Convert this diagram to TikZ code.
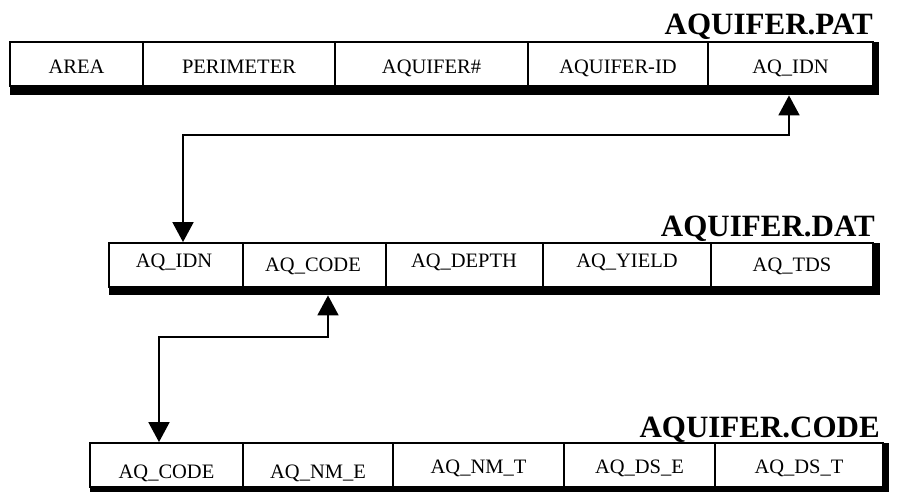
\documentclass[tikz,border=0pt]{standalone}
\usepackage{fontspec}
\setmainfont{Liberation Serif}
\usetikzlibrary{arrows.meta,calc}
\begin{document}
\begin{tikzpicture}[x=1pt,y=-1pt,
  cell/.style={draw, line width=1.8pt, inner sep=0pt, minimum height=44pt},
  lbl/.style={anchor=base, inner sep=0pt, font=\fontsize{20.5}{20.5}\selectfont},
  ttl/.style={anchor=base east, inner sep=0pt, font=\fontsize{31}{31}\selectfont\bfseries},
  band/.style={fill=black, inner sep=0pt, anchor=north west},
  conn/.style={line width=1.8pt, {Triangle[width=21pt,length=20pt]}-{Triangle[width=21pt,length=20pt]}}]
\useasboundingbox (0,0) rectangle (898,491);
% ---------- AQUIFER.PAT ----------
\node[ttl] (tpat) at (873,34) {AQUIFER.PAT};
\node[cell, minimum width=133pt] (pat1) at (76.5,64) {};
\node[cell, minimum width=192pt] (pat2) at (239,64) {};
\node[cell, minimum width=193pt] (pat3) at (431.5,64) {};
\node[cell, minimum width=180pt] (pat4) at (618,64) {};
\node[cell, minimum width=165pt] (pat5) at (790.5,64) {};
\node[band, minimum width=868pt, minimum height=9pt] (patband) at (10,86) {};
\node[band, minimum width=6pt, minimum height=53pt] (patside) at (872.5,42) {};
\node[lbl] (lpat1) at (76.5,73) {AREA};
\node[lbl] (lpat2) at (239,73) {PERIMETER};
\node[lbl] (lpat3) at (431.5,73) {AQUIFER\#};
\node[lbl] (lpat4) at (618,73) {AQUIFER-ID};
\node[lbl] (lpat5) at (790.5,73) {AQ\_IDN};
% ---------- AQUIFER.DAT ----------
\node[ttl] (tdat) at (875,236) {AQUIFER.DAT};
\node[cell, minimum width=134pt] (dat1) at (176,265) {};
\node[cell, minimum width=143pt] (dat2) at (314.5,265) {};
\node[cell, minimum width=157pt] (dat3) at (464.5,265) {};
\node[cell, minimum width=168pt] (dat4) at (627,265) {};
\node[cell, minimum width=162pt] (dat5) at (792,265) {};
\node[band, minimum width=771pt, minimum height=8pt] (datband) at (109,287) {};
\node[band, minimum width=7pt, minimum height=52pt] (datside) at (873,243) {};
\node[lbl] (ldat1) at (174,267) {AQ\_IDN};
\node[lbl] (ldat2) at (313,271) {AQ\_CODE};
\node[lbl] (ldat3) at (464,267) {AQ\_DEPTH};
\node[lbl] (ldat4) at (627,267) {AQ\_YIELD};
\node[lbl] (ldat5) at (792,271) {AQ\_TDS};
% ---------- AQUIFER.CODE ----------
\node[ttl] (tcode) at (880,437) {AQUIFER.CODE};
\node[cell, minimum width=153pt] (code1) at (166.5,465) {};
\node[cell, minimum width=150pt] (code2) at (318,465) {};
\node[cell, minimum width=171pt] (code3) at (478.5,465) {};
\node[cell, minimum width=151pt] (code4) at (639.5,465) {};
\node[cell, minimum width=168pt] (code5) at (799,465) {};
\node[band, minimum width=798pt, minimum height=6pt] (codeband) at (90,487) {};
\node[band, minimum width=6pt, minimum height=50pt] (codeside) at (883,443) {};
\node[lbl] (lcode1) at (166.5,478) {AQ\_CODE};
\node[lbl] (lcode2) at (318,478) {AQ\_NM\_E};
\node[lbl] (lcode3) at (478.5,473) {AQ\_NM\_T};
\node[lbl] (lcode4) at (639.5,473) {AQ\_DS\_E};
\node[lbl] (lcode5) at (799,473) {AQ\_DS\_T};
% ---------- connectors ----------
\coordinate (b1) at (789,135);
\coordinate (b2) at (183,135);
\draw[conn] (b1 |- patband.south) -- (b1) -- (b2) -- (b2 |- dat1.north);
\coordinate (c1) at (328,337);
\coordinate (c2) at (159,337);
\draw[conn] (c1 |- datband.south) -- (c1) -- (c2) -- (c2 |- code1.north);
\end{tikzpicture}
\end{document}
